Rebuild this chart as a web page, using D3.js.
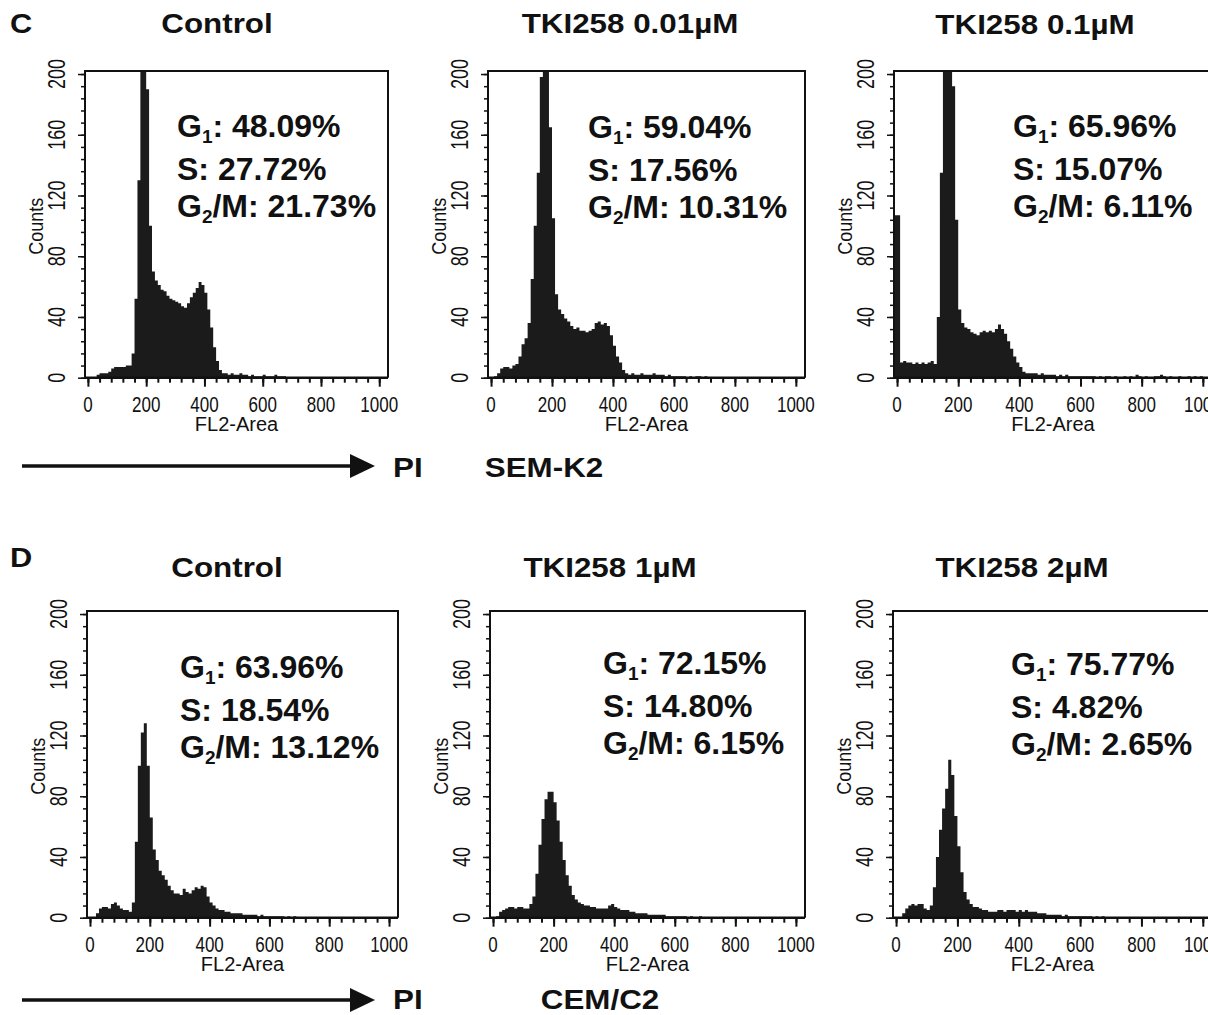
<!DOCTYPE html>
<html>
<head>
<meta charset="utf-8">
<script src="https://cdn.jsdelivr.net/npm/d3@7"></script>
<style>
  body { margin: 0; background: #fff; }
  svg { display: block; }
  text { font-family: "Liberation Sans", Arial, sans-serif; fill: #111; }
</style>
</head>
<body>
<svg id="chart" width="1208" height="1015"></svg>
<script>
// ---------------------------------- Data ----------------------------------
// Histogram counts per FL2-Area bin (bin i covers [i*binWidth, (i+1)*binWidth))
const binWidth = 10;
const xTicks = [0, 200, 400, 600, 800, 1000];
const yTicks = [0, 40, 80, 120, 160, 200];

const panelTitles = ["Control", "TKI258 0.01µM", "TKI258 0.1µM", "Control", "TKI258 1µM", "TKI258 2µM"];
const g1Values = ["48.09%", "59.04%", "65.96%", "63.96%", "72.15%", "75.77%"];
const sValues = ["27.72%", "17.56%", "15.07%", "18.54%", "14.80%", "4.82%"];
const g2mValues = ["21.73%", "10.31%", "6.11%", "13.12%", "6.15%", "2.65%"];
const rowLetters = ["C", "D"];
const cellLines = ["SEM-K2", "CEM/C2"];

const semControl = [0, 0, 0, 2, 3, 3, 3, 4, 6, 7, 7, 7, 7, 8, 8, 16, 52, 130, 210, 210,
    190, 100, 70, 64, 61, 58, 57, 54, 52, 51, 50, 49, 47, 46, 49, 53, 56, 59, 63, 61,
    56, 45, 33, 20, 11, 5, 3, 3, 2, 3, 2, 2, 3, 2, 2, 1, 2, 1, 1, 1,
    2, 1, 1, 1, 2, 1, 1, 1, 0];
const sem001 = [0, 1, 3, 6, 7, 7, 6, 8, 9, 14, 22, 26, 36, 65, 100, 135, 198, 215, 215, 165,
    105, 55, 45, 42, 39, 37, 34, 32, 33, 31, 31, 30, 31, 32, 36, 37, 35, 36, 34, 28,
    21, 14, 10, 5, 3, 2, 3, 2, 2, 3, 2, 2, 2, 3, 2, 2, 2, 1, 2, 1,
    1, 1, 1, 1, 0, 1, 0, 1, 1, 0, 1];
const sem01 = [107, 10, 11, 10, 10, 9, 10, 9, 10, 9, 10, 11, 9, 40, 135, 215, 215, 215, 192, 104,
    45, 36, 33, 32, 30, 29, 28, 30, 31, 30, 31, 30, 32, 35, 32, 29, 24, 19, 14, 10,
    7, 4, 3, 3, 3, 3, 2, 3, 2, 2, 2, 2, 1, 2, 1, 2, 1, 1, 1, 1,
    1, 1, 1, 1, 1, 0, 1, 0, 1, 1, 0, 1, 0, 0, 1, 0, 1, 0, 2, 1,
    0, 1, 0, 0, 1, 1, 2, 1, 0, 1, 0, 0, 1, 0, 0, 1, 0, 1, 0, 1];
const cemControl = [0, 0, 3, 6, 7, 7, 6, 9, 10, 8, 6, 5, 5, 4, 10, 50, 100, 122, 128, 100,
    66, 45, 38, 31, 28, 25, 21, 18, 16, 16, 15, 19, 17, 16, 18, 20, 19, 21, 20, 14,
    10, 8, 6, 5, 5, 4, 4, 3, 3, 3, 3, 2, 2, 2, 2, 2, 1, 2, 1, 1,
    1, 1, 1, 1, 1, 0, 1, 0, 1, 0];
const cem1 = [0, 1, 4, 5, 6, 7, 7, 6, 7, 7, 6, 6, 9, 14, 29, 48, 65, 78, 83, 83,
    76, 64, 50, 38, 28, 21, 15, 12, 10, 9, 8, 8, 7, 7, 6, 6, 6, 6, 8, 9,
    7, 6, 5, 5, 5, 4, 4, 3, 3, 3, 3, 2, 2, 2, 2, 2, 2, 1, 1, 1,
    1, 1, 1, 1, 0, 1, 0, 0, 1, 0];
const cem2 = [0, 0, 3, 6, 8, 9, 8, 9, 9, 6, 5, 8, 20, 40, 58, 72, 85, 104, 94, 67,
    47, 30, 17, 12, 9, 7, 7, 6, 5, 5, 4, 4, 4, 5, 5, 4, 5, 5, 5, 4,
    5, 4, 5, 4, 4, 4, 3, 3, 3, 2, 2, 2, 2, 2, 1, 2, 1, 1, 1, 1,
    1, 1, 1, 1, 0, 1, 0, 1, 0];

const histograms = [semControl, sem001, sem01, cemControl, cem1, cem2];

// ---------------------------------- Layout ----------------------------------
const panels = [
    { left: 85, right: 388, top: 71, bottom: 377.7, titleX: 217, titleY: 33, noteX: 177, noteY: 137 },
    { left: 488, right: 805, top: 71, bottom: 377.7, titleX: 630, titleY: 33, noteX: 588, noteY: 138 },
    { left: 894, right: 1212, top: 71, bottom: 377.7, titleX: 1035, titleY: 34, noteX: 1013, noteY: 137 },
    { left: 87, right: 398, top: 611, bottom: 917.7, titleX: 227, titleY: 577, noteX: 180, noteY: 678 },
    { left: 490, right: 805, top: 611, bottom: 917.7, titleX: 610, titleY: 577, noteX: 603, noteY: 674 },
    { left: 893, right: 1212, top: 611, bottom: 917.7, titleX: 1022, titleY: 577, noteX: 1011, noteY: 675 }
];
const rows = [
    { letterY: 33, arrowY: 466, textY: 477, cellX: 544 },
    { letterY: 567, arrowY: 1000, textY: 1009, cellX: 600 }
];

const svg = d3.select("#chart");
const fill = "#1b1b1b";

// draw one histogram panel
function drawPanel(i) {
    const p = panels[i];
    const data = histograms[i];

    var x = d3.scaleLinear().domain([-10, 1030]).range([p.left, p.right]);
    var y = d3.scaleLinear().domain([0, 202]).range([p.bottom, p.top]);

    var g = svg.append("g");

    // clip so the G1 peak is cut off at the frame top
    g.append("clipPath").attr("id", "clip" + i)
        .append("rect")
        .attr("x", p.left).attr("y", p.top)
        .attr("width", p.right - p.left).attr("height", p.bottom - p.top);

    var points = data.map(function (d, k) { return [k * binWidth, d]; });
    points.unshift([-10, data[0]]); // underflow channel reaches the frame
    points.push([data.length * binWidth, 0]);

    var area = d3.area()
        .x(function (d) { return x(d[0]); })
        .y0(y(0))
        .y1(function (d) { return y(d[1]); })
        .curve(d3.curveStepAfter);

    g.append("path")
        .datum(points)
        .attr("clip-path", "url(#clip" + i + ")")
        .attr("fill", fill)
        .attr("d", area);

    // frame
    g.append("path")
        .attr("d", "M" + p.left + "," + p.bottom + "V" + p.top + "H" + p.right + "V" + p.bottom)
        .attr("fill", "none").attr("stroke", "#111").attr("stroke-width", 2);

    // x axis: minor + major ticks
    var xAxis = g.append("g").attr("transform", "translate(0," + p.bottom + ")");
    xAxis.call(d3.axisBottom(x).tickValues(d3.range(0, 1030, 40)).tickSize(5).tickFormat(""));
    xAxis.append("g").call(d3.axisBottom(x).tickValues(xTicks).tickSize(9).tickFormat(""));
    xAxis.selectAll(".domain").remove();
    xAxis.selectAll("line").attr("stroke", "#111").attr("stroke-width", 2);
    g.append("line")
        .attr("x1", p.left).attr("x2", p.right)
        .attr("y1", p.bottom).attr("y2", p.bottom)
        .attr("stroke", "#111").attr("stroke-width", 2.5);

    // y axis: minor + major ticks
    var yAxis = g.append("g").attr("transform", "translate(" + p.left + ",0)");
    yAxis.call(d3.axisLeft(y).tickValues(d3.range(0, 201, 8)).tickSize(4).tickFormat(""));
    yAxis.append("g").call(d3.axisLeft(y).tickValues(yTicks).tickSize(7).tickFormat(""));
    yAxis.selectAll(".domain").remove();
    yAxis.selectAll("line").attr("stroke", "#111").attr("stroke-width", 1.5);

    // tick labels (narrow, tall digits)
    g.selectAll(".xlab")
        .data(xTicks)
        .enter()
        .append("text")
        .attr("transform", function (d) { return "translate(" + x(d) + "," + (p.bottom + 34) + ") scale(1,1.35)"; })
        .attr("text-anchor", "middle")
        .style("font-size", "17px")
        .text(function (d) { return d; });

    g.selectAll(".ylab")
        .data(yTicks)
        .enter()
        .append("text")
        .attr("transform", function (d) { return "translate(" + (p.left - 20) + "," + y(d) + ") rotate(-90) scale(1,1.35)"; })
        .attr("text-anchor", "middle")
        .style("font-size", "18px")
        .text(function (d) { return d; });

    g.append("text")
        .attr("transform", "translate(" + (p.left - 42) + "," + ((p.top + p.bottom) / 2 + 2) + ") rotate(-90) scale(1,1.15)")
        .attr("text-anchor", "middle")
        .style("font-size", "18px")
        .text("Counts");

    g.append("text")
        .attr("x", (p.left + p.right) / 2)
        .attr("y", p.bottom + 53)
        .attr("text-anchor", "middle")
        .style("font-size", "20px")
        .text("FL2-Area");

    // title
    g.append("text")
        .attr("transform", "translate(" + p.titleX + "," + p.titleY + ") scale(1.12,1)")
        .attr("text-anchor", "middle")
        .style("font-size", "28px")
        .style("font-weight", "bold")
        .text(panelTitles[i]);

    // cell cycle percentages
    var lines = [
        { head: "G", sub: "1", tail: ": " + g1Values[i] },
        { head: "S: " + sValues[i], sub: null, tail: "" },
        { head: "G", sub: "2", tail: "/M: " + g2mValues[i] }
    ];
    var lineOffsets = [0, 43, 80];
    lines.forEach(function (l, k) {
        var t = g.append("text")
            .attr("x", p.noteX)
            .attr("y", p.noteY + lineOffsets[k])
            .style("font-size", "32px")
            .style("font-weight", "bold");
        t.append("tspan").text(l.head);
        if (l.sub) {
            t.append("tspan").attr("dy", 6).style("font-size", "19px").text(l.sub);
            t.append("tspan").attr("dy", -6).text(l.tail);
        }
    });
}

for (var i = 0; i < panels.length; i++) {
    drawPanel(i);
}

// ---------------------------------- Row labels + PI arrows ----------------------------------
rows.forEach(function (r, k) {
    svg.append("text")
        .attr("transform", "translate(10," + r.letterY + ") scale(1.1,1)")
        .style("font-size", "28px")
        .style("font-weight", "bold")
        .text(rowLetters[k]);

    svg.append("line")
        .attr("x1", 22).attr("x2", 355)
        .attr("y1", r.arrowY).attr("y2", r.arrowY)
        .attr("stroke", "#111").attr("stroke-width", 3.5);
    svg.append("path")
        .attr("d", "M350," + (r.arrowY - 12) + "L375," + r.arrowY + "L350," + (r.arrowY + 12) + "Z")
        .attr("fill", "#111");

    svg.append("text")
        .attr("transform", "translate(393," + r.textY + ") scale(1.12,1)")
        .style("font-size", "28px")
        .style("font-weight", "bold")
        .text("PI");

    svg.append("text")
        .attr("transform", "translate(" + r.cellX + "," + r.textY + ") scale(1.12,1)")
        .attr("text-anchor", "middle")
        .style("font-size", "28px")
        .style("font-weight", "bold")
        .text(cellLines[k]);
});
</script>
</body>
</html>
